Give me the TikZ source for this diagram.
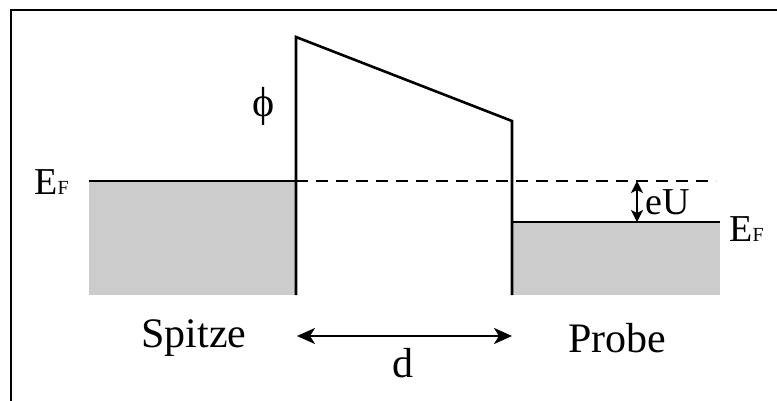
\documentclass[tikz,border=0pt]{standalone}
\usepackage{fontspec}
\setmainfont{Liberation Serif}
\usetikzlibrary{arrows.meta}

\newcommand{\fermilevel}{E{\fontsize{10}{10}\selectfont F}}

\begin{document}
\begin{tikzpicture}[
  x=0.5pt, y=-0.5pt,
  band/.style={line width=1.3pt},
  filled/.style={fill=gray!40, draw=none},
  frame/.style={line width=0.8pt},
  lbl/.style={font=\fontsize{21}{24}\selectfont, inner sep=0pt},
  sml/.style={font=\fontsize{19}{22}\selectfont, inner sep=0pt},
  dim/.style={{Stealth[length=9pt,width=8pt,inset=2.5pt]}-{Stealth[length=9pt,width=8pt,inset=2.5pt]}, line width=1.3pt},
  dimsmall/.style={{Stealth[length=6pt,width=6pt,inset=1.5pt]}-{Stealth[length=6pt,width=6pt,inset=1.5pt]}, line width=1.3pt}
]
\useasboundingbox (0,0) rectangle (777,401);
\draw[frame] (11,401) -- (11,10) -- (777,10);

% occupied states
\fill[filled] (89,181) rectangle (296,295);
\fill[filled] (512,222) rectangle (720,295);

% barrier
\draw[band] (89,181) -- (296,181);
\draw[band] (296,295) -- (296,37) -- (512,121) -- (512,295);
\draw[band] (512,222) -- (720,222);
\draw[band, dash pattern=on 6pt off 4pt] (296,181) -- (716,181);

% bias and distance
\coordinate (tipef) at (637,181);
\coordinate (sampleef) at (637,222);
\draw[dimsmall] (tipef) -- (sampleef);
\coordinate (gapl) at (297,336);
\coordinate (gapr) at (512,336);
\draw[dim] (gapl) -- (gapr);

\node[sml, anchor=base west] (efleft) at (34,195) {\fermilevel};
\node[sml, anchor=base west] (efright) at (729,242) {\fermilevel};
\node[sml, anchor=base west] (eu) at (645,214) {eU};
\node[lbl] (phi) at (264,106) {ϕ};
\node[lbl, anchor=base] (spitze) at (194,347) {Spitze};
\node[lbl, anchor=base] (probe) at (617,352) {Probe};
\node[lbl, anchor=base] (dist) at (403,377) {d};
\end{tikzpicture}
\end{document}
